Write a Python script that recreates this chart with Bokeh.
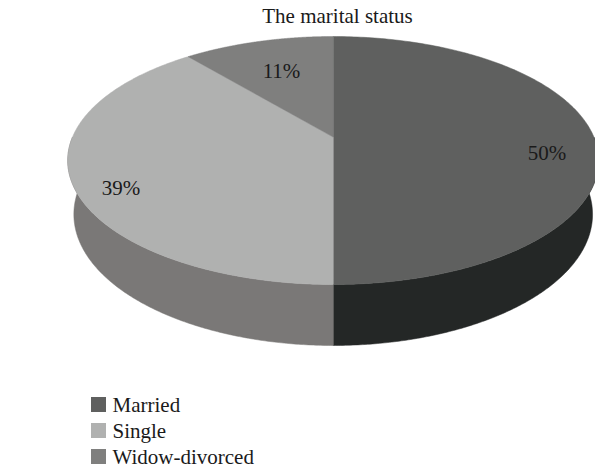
import numpy as np
from bokeh.plotting import figure
from bokeh.models import Range1d
from bokeh.embed import file_html
from bokeh.resources import INLINE
from bokeh.core.properties import value

# ---- data ----
chart_title = "The marital status"
categories = ["Married", "Single", "Widow-divorced"]
values = [50, 39, 11]
labels = ["50%", "39%", "11%"]
top_colors = ["#5f605f", "#b0b1b0", "#7f7f7e"]
side_colors = ["#242726", "#7a7877", "#5a5a59"]

FONT = value("Liberation Serif")
TXT = "#1a1a1a"
FS = "21px"

W, H = 595, 469
p = figure(width=W, height=H, x_range=Range1d(0, W), y_range=Range1d(H, 0),
           output_backend="svg", toolbar_location=None, min_border=0)
p.axis.visible = False
p.grid.visible = False
p.outline_line_color = None
p.background_fill_color = "white"

# ---- perspective projection of a tilted 3D pie ----
PHI = np.radians(27.3)
DIST = 4.7
DEPTH = 0.234
C = np.array([0.0, DIST * np.sin(PHI), DIST * np.cos(PHI)])
FWD = -C / DIST
UP = np.array([0.0, np.cos(PHI), -np.sin(PHI)])


def proj(X, Y, Z):
    vx, vy, vz = X - C[0], Y - C[1], Z - C[2]
    d = vy * FWD[1] + vz * FWD[2]
    u = vy * UP[1] + vz * UP[2]
    return vx / d, u / d


# fit projected pie to the layout box
CX, TOP_Y, FRONT_Y = 332.7, 36.0, 284.0
tt = np.linspace(0, 2 * np.pi, 2000)
_, sy_all = proj(np.sin(tt), 0 * tt, -np.cos(tt))
SCALE = (FRONT_Y - TOP_Y) / (sy_all.max() - sy_all.min())
SYMAX = sy_all.max()


def to_px(X, Y, Z):
    sx, sy = proj(np.asarray(X, float), np.asarray(Y, float), np.asarray(Z, float))
    return CX + sx * SCALE, TOP_Y + (SYMAX - sy) * SCALE


def arc(a0, a1, y, r=1.0, n=200):
    t = np.linspace(a0, a1, n)
    return to_px(r * np.sin(t), np.full_like(t, y), -r * np.cos(t))


fr = np.array(values, float) / sum(values)
ends = np.cumsum(fr) * 2 * np.pi
starts = ends - fr * 2 * np.pi

# side walls (front half only is visible)
wx, wy, wc = [], [], []
for a0, a1, col in zip(starts, ends, side_colors):
    b0, b1 = max(a0, np.pi / 2), min(a1, 3 * np.pi / 2)
    if b1 <= b0:
        continue
    tx, ty = arc(b0, b1, 0.0)
    bx, by = arc(b0, b1, -DEPTH)
    wx.append(list(np.concatenate([tx, bx[::-1]])))
    wy.append(list(np.concatenate([ty, by[::-1]])))
    wc.append(col)
p.patches(wx, wy, fill_color=wc, line_color=wc, line_width=0.5)

# top faces
cx0, cy0 = to_px(0.0, 0.0, 0.0)
fx, fy = [], []
for a0, a1 in zip(starts, ends):
    ax_, ay_ = arc(a0, a1, 0.0)
    fx.append([float(cx0)] + list(ax_))
    fy.append([float(cy0)] + list(ay_))
p.patches(fx, fy, fill_color=top_colors, line_color=top_colors, line_width=0.5)

# percentage labels: near the rim, pulled inward for narrow slices
mids = (starts + ends) / 2
alpha = ends - starts
centroid_r = 4 * np.sin(alpha / 2) / (3 * alpha)
LR = np.where(fr < 0.15, centroid_r, 0.82)
lx, ly = to_px(LR * np.sin(mids), 0 * mids, -LR * np.cos(mids))
ly = ly + np.where(fr < 0.15, 0, 16)
p.text(x=list(lx), y=list(ly), text=labels, text_font=FONT, text_font_size=FS,
       text_color=TXT, text_align="center", text_baseline="middle")

# title
p.text(x=[337], y=[15], text=[chart_title], text_font=FONT, text_font_size=FS,
       text_color=TXT, text_align="center", text_baseline="middle")

# legend
ly0, step = 404, 26
leg_y = [ly0 + i * step for i in range(len(categories))]
p.rect(x=[98] * len(categories), y=leg_y, width=15, height=15,
       fill_color=top_colors, line_color=None)
p.text(x=[112] * len(categories), y=leg_y, text=categories, text_font=FONT,
       text_font_size=FS, text_color=TXT, text_align="left", text_baseline="middle")

open("out.html", "w").write(file_html(p, INLINE))
